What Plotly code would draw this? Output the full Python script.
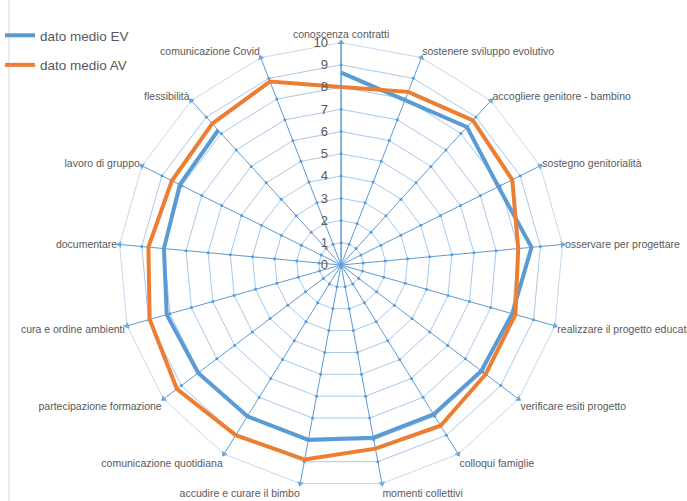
import plotly.graph_objects as go

categories = [
    "conoscenza contratti", "sostenere sviluppo evolutivo", "accogliere genitore - bambino",
    "sostegno genitorialità", "osservare per progettare", "realizzare il progetto educativo",
    "verificare esiti progetto", "colloqui famiglie", "momenti collettivi",
    "accudire e curare il bimbo", "comunicazione quotidiana", "partecipazione formazione",
    "cura e ordine ambienti", "documentare", "lavoro di gruppo", "flessibilità",
    "comunicazione Covid",
]
ev_values = [8.65, 7.95, 8.4, 7.9, 8.6, 8.0, 7.9, 7.9, 7.9, 8.0, 8.0, 8.05, 8.15, 8.0, 8.1, 8.2, None]
av_values = [8.0, 8.35, 8.8, 8.6, 8.0, 8.15, 8.15, 8.5, 8.4, 8.9, 9.0, 9.25, 8.95, 8.7, 8.5, 8.6, 8.85]
radial_ticks = list(range(0, 11))
series_names = ["dato medio EV", "dato medio AV"]

BLUE = "#5B9BD5"
ORANGE = "#ED7D31"
GRID = "#A9C9EA"
TEXT = "#595959"
FONT = "Liberation Sans"

n = len(categories)
fig = go.Figure()

# tick marks along each spoke (axis decoration)
tick_r, tick_t = [], []
for c in categories:
    for v in radial_ticks[1:-1]:
        tick_r.append(v)
        tick_t.append(c)
fig.add_trace(go.Scatterpolar(r=tick_r, theta=tick_t, mode="markers",
                              marker=dict(color=BLUE, size=3), showlegend=False,
                              hoverinfo="skip"))
# arrow heads at spoke ends
fig.add_trace(go.Scatterpolar(r=[radial_ticks[-1]] * n, theta=categories, mode="markers",
                              marker=dict(color=BLUE, size=6, symbol="triangle-up",
                                          angle=[i * 360 / n for i in range(n)]),
                              showlegend=False, hoverinfo="skip"))

for name, vals, col, grp in [(series_names[0], ev_values, BLUE, "a"),
                             (series_names[1], av_values, ORANGE, "b")]:
    fig.add_trace(go.Scatterpolar(
        r=vals + [vals[0]], theta=categories + [categories[0]],
        mode="lines", name=name, legendgroup=grp,
        line=dict(color=col, width=4), connectgaps=False,
    ))

fig.update_layout(
    width=687, height=501, autosize=False,
    margin=dict(l=0, r=0, t=0, b=0),
    paper_bgcolor="white", plot_bgcolor="white",
    font=dict(family=FONT, color=TEXT, size=11),
    polar=dict(
        domain=dict(x=[112 / 687, 562 / 687], y=[11 / 501, 461 / 501]),
        bgcolor="white",
        gridshape="linear",
        angularaxis=dict(
            type="category", categoryarray=categories, rotation=90, direction="clockwise",
            showgrid=True, gridcolor=BLUE, gridwidth=1,
            showline=True, linecolor=GRID, linewidth=0.7,
            ticks="", tickfont=dict(size=10.5, color=TEXT, family=FONT),
        ),
        radialaxis=dict(
            range=[0, 10], tickvals=radial_ticks, angle=90, tickangle=90,
            side="counterclockwise",
            showgrid=True, gridcolor=GRID, gridwidth=0.7,
            showline=True, linecolor=BLUE, linewidth=1,
            ticks="outside", ticklen=8, tickcolor="rgba(0,0,0,0)",
            tickfont=dict(size=13, color=TEXT, family=FONT),
        ),
    ),
    legend=dict(x=-0.012, y=1 - 20 / 501, xanchor="left", yanchor="top",
                font=dict(size=13.5, color=TEXT, family=FONT),
                traceorder="grouped", tracegroupgap=9, bgcolor="rgba(0,0,0,0)"),
    shapes=[dict(type="line", xref="paper", yref="paper", x0=0.0015, x1=0.0015, y0=0, y1=1,
                 line=dict(color="#D9D9D9", width=1))],
)

fig.write_html("out.html")
